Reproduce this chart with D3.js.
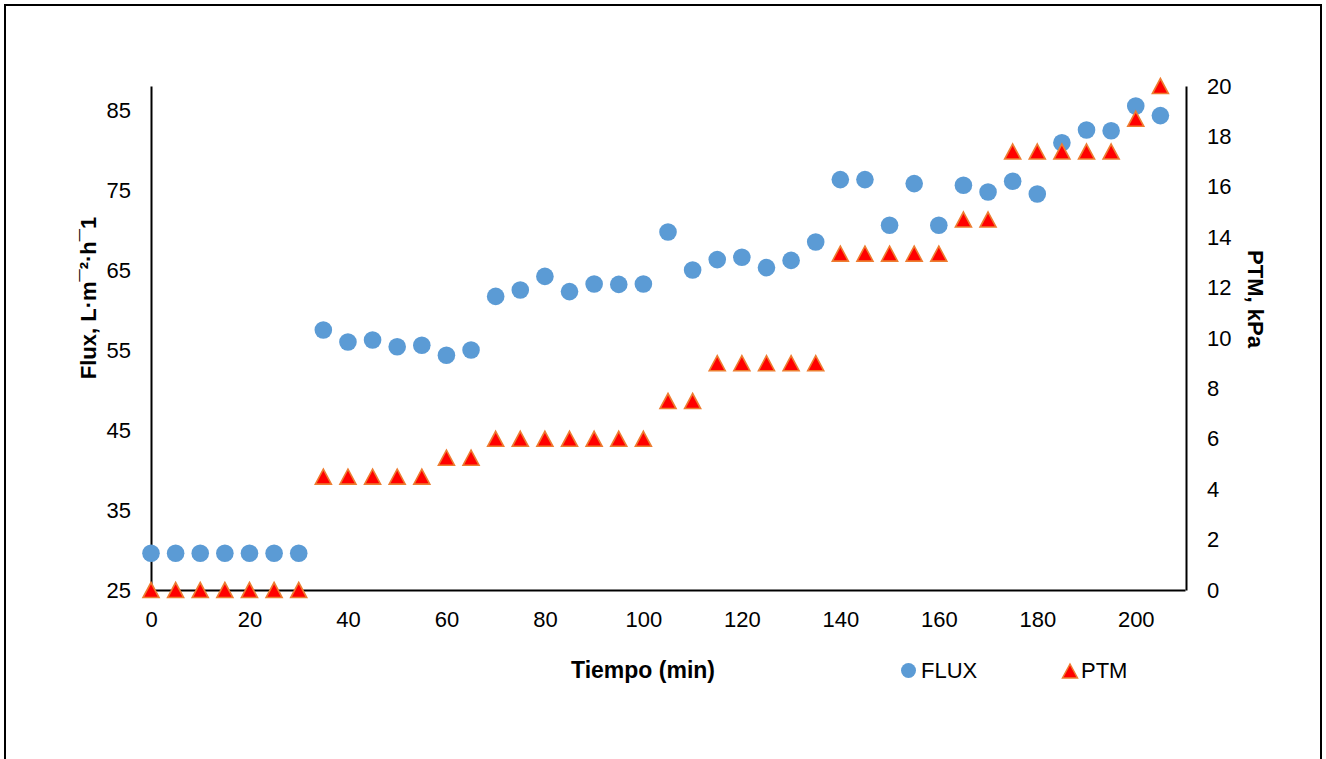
<!DOCTYPE html>
<html lang="es">
<head>
    <meta charset="UTF-8">
    <title>Flux y PTM</title>
    <script src="https://d3js.org/d3.v7.min.js"></script>
    <style>
        body { margin: 0; background: #fff; }
        text { font-family: "Liberation Sans", Arial, sans-serif; fill: #000; }
    </style>
</head>
<body>
<svg id="chart"></svg>
<script>
    // tiempo (min)
    const tiempo = [0, 5, 10, 15, 20, 25, 30, 35, 40, 45, 50, 55, 60, 65, 70, 75, 80, 85, 90, 95, 100,
        105, 110, 115, 120, 125, 130, 135, 140, 145, 150, 155, 160, 165, 170, 175, 180, 185, 190, 195, 200, 205];
    // Flux, L/m2h
    const flux = [29.6, 29.6, 29.6, 29.6, 29.6, 29.6, 29.6, 57.5, 56.0, 56.25, 55.4, 55.6, 54.35, 55.0, 61.7, 62.5,
        64.2, 62.3, 63.25, 63.2, 63.25, 69.75, 65.0, 66.3, 66.6, 65.3, 66.2, 68.5, 76.3, 76.3, 70.6, 75.8,
        70.6, 75.6, 74.75, 76.1, 74.5, 80.9, 82.5, 82.4, 85.5, 84.3];
    // PTM, kPa
    const ptm = [0, 0, 0, 0, 0, 0, 0, 4.5, 4.5, 4.5, 4.5, 4.5, 5.25, 5.25, 6, 6, 6, 6, 6, 6, 6,
        7.5, 7.5, 9, 9, 9, 9, 9, 13.35, 13.35, 13.35, 13.35, 13.35, 14.7, 14.7, 17.4, 17.4, 17.4, 17.4, 17.4, 18.7, 20];

    const xTicks = [0, 20, 40, 60, 80, 100, 120, 140, 160, 180, 200];
    const yLeftTicks = [25, 35, 45, 55, 65, 75, 85];
    const yRightTicks = [0, 2, 4, 6, 8, 10, 12, 14, 16, 18, 20];

    const width = 1326, height = 759;
    const svg = d3.select('#chart').attr('width', width).attr('height', height);

    // marco exterior
    svg.append('rect')
        .attr('x', 5).attr('y', 5)
        .attr('width', 1316).attr('height', 770)
        .attr('fill', 'none').attr('stroke', '#000').attr('stroke-width', 2);

    const x = d3.scaleLinear().domain([0, 210]).range([151, 1185]);
    const yL = d3.scaleLinear().domain([25, 88]).range([590, 86]);
    const yR = d3.scaleLinear().domain([0, 20]).range([590, 86]);

    const gx = svg.append('g').attr('transform', 'translate(0,590)')
        .call(d3.axisBottom(x).tickValues(xTicks).tickSize(0).tickPadding(21));
    const gl = svg.append('g').attr('transform', 'translate(151,0)')
        .call(d3.axisLeft(yL).tickValues(yLeftTicks).tickSize(0).tickPadding(20));
    const gr = svg.append('g').attr('transform', 'translate(1186,0)')
        .call(d3.axisRight(yR).tickValues(yRightTicks).tickSize(0).tickPadding(21));

    [gx, gl, gr].forEach(g => {
        g.select('.domain').attr('stroke', '#000').attr('stroke-width', 2);
        g.selectAll('text').attr('font-size', 22).attr('font-family', '"Liberation Sans", Arial, sans-serif');
    });

    // titulos
    svg.append('text')
        .attr('transform', 'translate(96,298) rotate(-90)')
        .attr('text-anchor', 'middle').attr('font-size', 22).attr('font-weight', 'bold')
        .text('Flux, L·m¯²·h¯1');
    svg.append('text')
        .attr('transform', 'translate(1248,299) rotate(90)')
        .attr('text-anchor', 'middle').attr('font-size', 22).attr('font-weight', 'bold')
        .text('PTM, kPa');
    svg.append('text')
        .attr('x', 643).attr('y', 678)
        .attr('text-anchor', 'middle').attr('font-size', 23).attr('font-weight', 'bold')
        .text('Tiempo (min)');

    const blue = '#5B9BD5';
    const tri = (w, h) => `M0,${-h / 2}L${w / 2},${h / 2}L${-w / 2},${h / 2}Z`;

    const data = tiempo.map((t, i) => ({t: t, flux: flux[i], ptm: ptm[i]}));

    svg.append('g').selectAll('circle')
        .data(data).join('circle')
        .attr('cx', d => x(d.t))
        .attr('cy', d => yL(d.flux))
        .attr('r', 8.8)
        .attr('fill', blue);

    svg.append('g').selectAll('path')
        .data(data).join('path')
        .attr('transform', d => `translate(${x(d.t)},${yR(d.ptm)})`)
        .attr('d', tri(16, 15))
        .attr('fill', '#FF0000')
        .attr('stroke', '#ED7D31')
        .attr('stroke-width', 1.6)
        .attr('stroke-linejoin', 'miter');

    // leyenda
    const leg = svg.append('g');
    leg.append('circle').attr('cx', 908.5).attr('cy', 670.5).attr('r', 7.5).attr('fill', blue);
    leg.append('text').attr('x', 921).attr('y', 678).attr('font-size', 22).text('FLUX');
    leg.append('path').attr('transform', 'translate(1070,671)').attr('d', tri(15, 14))
        .attr('fill', '#FF0000').attr('stroke', '#ED7D31').attr('stroke-width', 1.5);
    leg.append('text').attr('x', 1081).attr('y', 678).attr('font-size', 22).text('PTM');
</script>
</body>
</html>
